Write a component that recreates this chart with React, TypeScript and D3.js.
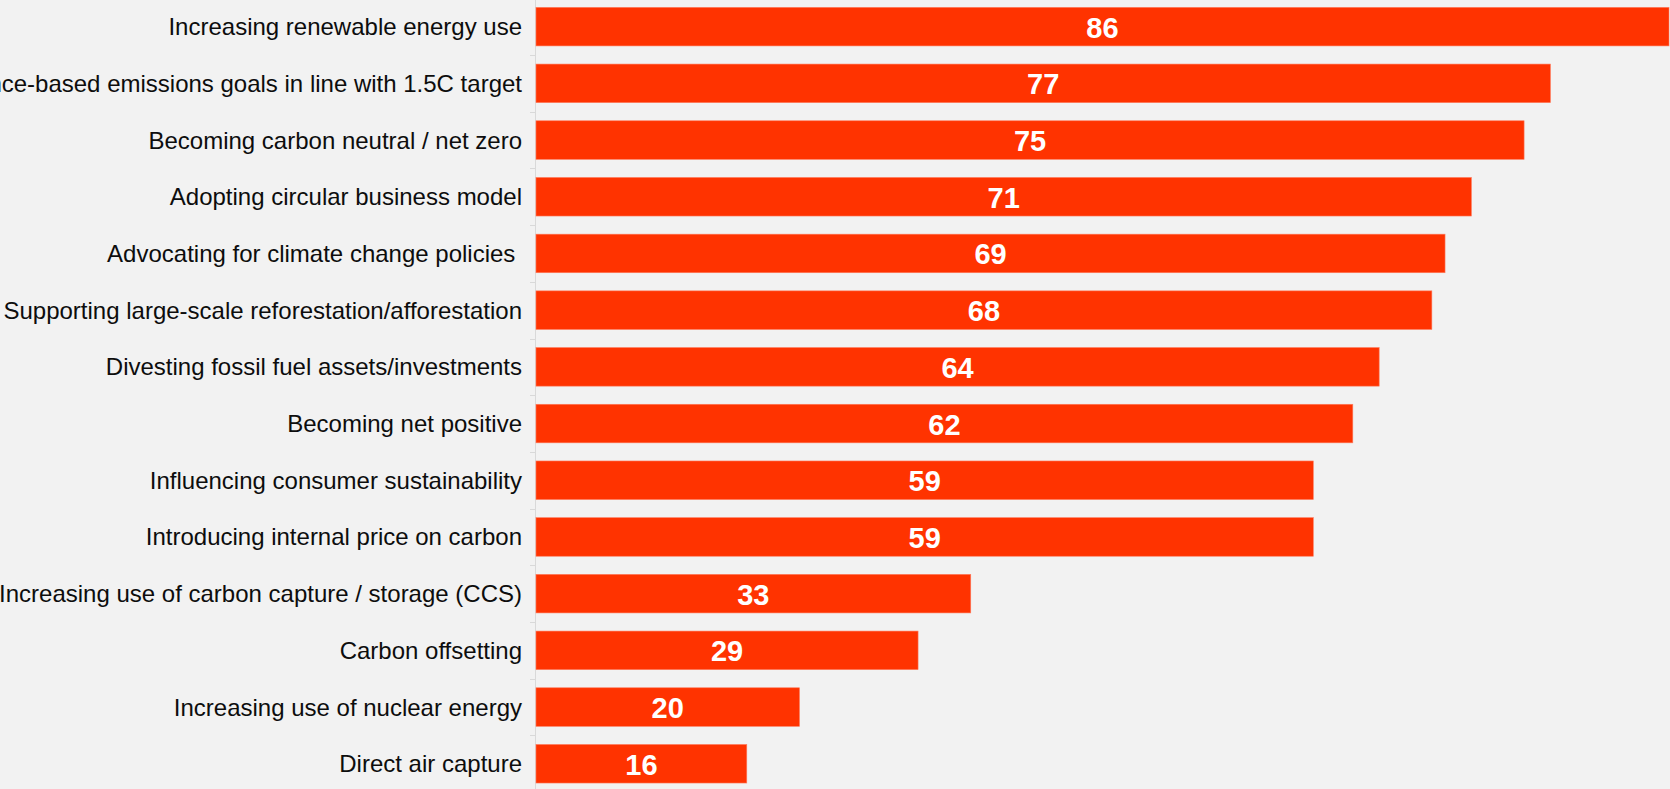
import React from "react";
import * as d3 from "d3";

const categories: string[] = [
  "Increasing renewable energy use",
  "Setting science-based emissions goals in line with 1.5C target",
  "Becoming carbon neutral / net zero",
  "Adopting circular business model",
  "Advocating for climate change policies ",
  "Supporting large-scale reforestation/afforestation",
  "Divesting fossil fuel assets/investments",
  "Becoming net positive",
  "Influencing consumer sustainability",
  "Introducing internal price on carbon",
  "Increasing use of carbon capture / storage (CCS)",
  "Carbon offsetting",
  "Increasing use of nuclear energy",
  "Direct air capture",
];

const values: number[] = [86, 77, 75, 71, 69, 68, 64, 62, 59, 59, 33, 29, 20, 16];

const W = 1670;
const H = 789;
const AXIS_X = 535.5;
const BAR_X0 = 536;

export default function App() {
  const x = d3.scaleLinear().domain([0, 86]).range([BAR_X0, 1669]);
  const y = d3
    .scaleBand<string>()
    .domain(categories)
    .range([-1.7, -1.7 + 56.7 * categories.length])
    .paddingInner(0.32)
    .paddingOuter(0.16);

  const step = y.step();
  const ticks = d3.range(categories.length + 1).map((i) => -1.7 + i * step);

  return (
    <div style={{ position: "fixed", left: 0, top: 0, width: W, height: H, background: "#f2f2f2", overflow: "hidden" }}>
      <svg width={W} height={H} style={{ display: "block", fontFamily: "'Liberation Sans', Arial, sans-serif" }}>
        <rect x={0} y={0} width={W} height={H} fill="#f2f2f2" />
        <line x1={AXIS_X} x2={AXIS_X} y1={0} y2={H} stroke="#d9d9d9" strokeWidth={1} />
        {ticks.map((t, i) => (
          <line key={"t" + i} x1={530} x2={AXIS_X} y1={Math.round(t) + 0.5} y2={Math.round(t) + 0.5} stroke="#d9d9d9" strokeWidth={1} />
        ))}
        {categories.map((c, i) => {
          const v = values[i];
          const by = y(c)!;
          const bh = y.bandwidth();
          return (
            <g key={c}>
              <rect x={x(0)} y={by} width={x(v) - x(0)} height={bh} fill="#ff3300" stroke="#ff7a5c" strokeWidth={0.6} />
              <text
                x={522}
                y={by + bh / 2}
                textAnchor="end"
                dominantBaseline="central"
                fontSize={24}
                fill="#0d0d0d"
                style={{ whiteSpace: "pre" }}
              >
                {c}
              </text>
              <text
                x={(x(0) + x(v)) / 2}
                y={by + bh / 2 + 1}
                textAnchor="middle"
                dominantBaseline="central"
                fontSize={29}
                fontWeight="bold"
                fill="#ffffff"
              >
                {v}
              </text>
            </g>
          );
        })}
      </svg>
    </div>
  );
}
